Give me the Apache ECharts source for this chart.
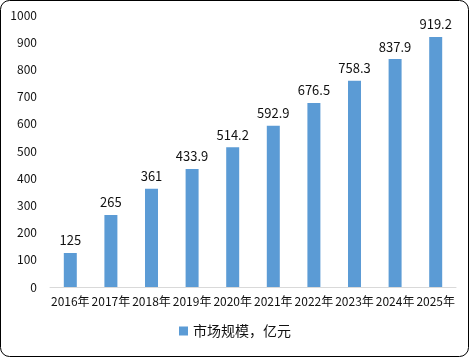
<!DOCTYPE html>
<html><head><meta charset="utf-8">
<script src="https://cdn.jsdelivr.net/npm/echarts@6/dist/echarts.min.js"></script>
<style>html,body{margin:0;padding:0;background:#fff}#c{width:470px;height:358px}</style>
</head><body><div id="c"></div>
<script>
const categories = ['2016年','2017年','2018年','2019年','2020年','2021年','2022年','2023年','2024年','2025年'];
const values = [125, 265, 361, 433.9, 514.2, 592.9, 676.5, 758.3, 837.9, 919.2];
const seriesName = '市场规模，亿元';
const font = '"Noto Sans CJK SC", "Noto Sans", sans-serif';
const chart = echarts.init(document.getElementById('c'));
chart.setOption({
  animation: false,
  textStyle: {fontFamily: font},
  graphic: [{type:'rect', shape:{x:0.5,y:0.5,width:468,height:356,r:9}, style:{fill:'none',stroke:'#000',lineWidth:1}}],
  grid: {left: 50, right: 14, top: 15, bottom: 71, containLabel: false},
  legend: {bottom: 15, left: 'center', itemWidth: 9, itemHeight: 9, icon: 'rect', itemGap: 6,
    textStyle: {fontSize: 14, color: '#111', fontFamily: font}, data: [seriesName]},
  xAxis: {type: 'category', data: categories,
    axisLine: {lineStyle: {color: '#d9d9d9'}}, axisTick: {show: false},
    axisLabel: {interval: 0, fontSize: 12, color: '#111', margin: 8, fontFamily: font}},
  yAxis: {type: 'value', min: 0, max: 1000, interval: 100,
    splitLine: {show: false}, axisLine: {show: false}, axisTick: {show: false},
    axisLabel: {fontSize: 12, color: '#111', margin: 13, fontFamily: font, formatter: v => String(v)}},
  series: [{name: seriesName, type: 'bar', data: values, barWidth: '32%',
    itemStyle: {color: '#5B9BD5'},
    label: {show: true, position: 'top', fontSize: 13, color: '#111', distance: 6, fontFamily: font}}]
});
</script></body></html>
